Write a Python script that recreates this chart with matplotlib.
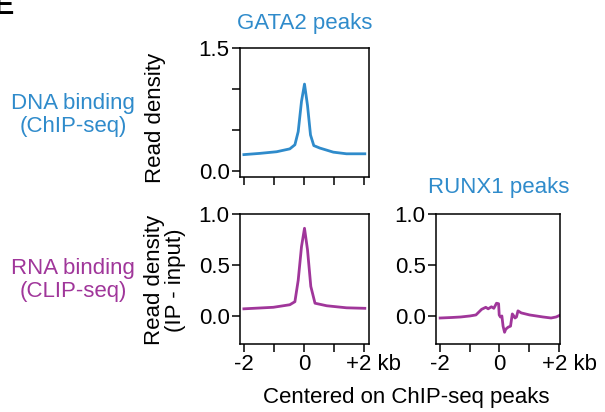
import matplotlib
matplotlib.use("Agg")
import matplotlib.pyplot as plt
import matplotlib.transforms as mtransforms

plt.rcParams['font.family'] = ['Liberation Sans', 'DejaVu Sans']

# GATA2 peaks, DNA binding (ChIP-seq)
gata2_x = [-2.0, -1.47, -0.91, -0.47, -0.3, -0.19, -0.08, 0.02, 0.12, 0.22, 0.33, 0.53, 0.98, 1.42, 2.03]
gata2_dna = [0.20, 0.215, 0.235, 0.27, 0.32, 0.48, 0.85, 1.06, 0.80, 0.44, 0.31, 0.28, 0.23, 0.21, 0.21]

# GATA2 peaks, RNA binding (CLIP-seq)
gata2_rna_x = [-2.0, -1.02, -0.47, -0.3, -0.19, -0.08, 0.02, 0.12, 0.23, 0.37, 0.76, 1.42, 2.03]
gata2_rna = [0.07, 0.085, 0.11, 0.14, 0.35, 0.68, 0.86, 0.65, 0.29, 0.125, 0.10, 0.08, 0.075]

# RUNX1 peaks, RNA binding (CLIP-seq)
runx1_x = [-1.99, -1.6, -1.3, -0.99, -0.79, -0.6, -0.46, -0.38, -0.27, -0.19, -0.1, -0.03,
           -0.01, 0.03, 0.08, 0.12, 0.17, 0.21, 0.29, 0.37, 0.43, 0.48, 0.52, 0.57, 0.62,
           0.73, 1.01, 1.46, 1.73, 1.9, 2.01]
runx1_rna = [-0.02, -0.015, -0.01, 0.0, 0.01, 0.065, 0.085, 0.07, 0.09, 0.075, 0.125, 0.12,
             0.01, -0.01, 0.0, -0.10, -0.16, -0.13, -0.11, -0.10, 0.02, 0.0, -0.02, -0.01, 0.05,
             0.03, 0.01, -0.01, -0.02, -0.01, 0.005]

x_ticks = [-2, -1, 0, 1, 2]
x_ticklabels = ['-2', '', '0', '', '+2 kb']

blue = '#2f8bcb'
purple = '#a0369a'
fs = 16

W, H = 605, 412
fig = plt.figure(figsize=(W / 100, H / 100), dpi=100)


def px_axes(left, top, right, bottom):
    return fig.add_axes([left / W, 1 - bottom / H, (right - left) / W, (bottom - top) / H])


def style(ax):
    for s in ax.spines.values():
        s.set_linewidth(1.1)
    ax.tick_params(direction='out', length=6, width=1.1, labelsize=fs, pad=1.5)
    ax.set_xticks(x_ticks)


ax_top = px_axes(240, 48, 369, 177)
ax_bl = px_axes(240, 214, 369, 344)
ax_br = px_axes(436, 214, 560, 344)

ax_top.plot(gata2_x, gata2_dna, color=blue, lw=2.0)
ax_top.set_xlim(-2.13, 2.17)
ax_top.set_ylim(-0.073, 1.5)
ax_top.set_yticks([0, 0.5, 1.0, 1.5])
ax_top.set_yticklabels(['0.0', '', '', '1.5'])
style(ax_top)
ax_top.set_xticklabels([])

ax_bl.plot(gata2_rna_x, gata2_rna, color=purple, lw=2.0)
ax_bl.set_xlim(-2.13, 2.17)

ax_br.plot(runx1_x, runx1_rna, color=purple, lw=2.0)
ax_br.set_xlim(-2.13, 2.03)

for ax in (ax_bl, ax_br):
    ax.set_ylim(-0.275, 1.0)
    ax.set_yticks([0, 0.5, 1.0])
    ax.set_yticklabels(['0.0', '0.5', '1.0'])
    style(ax)
    ax.set_xticklabels(x_ticklabels)
    lab = ax.get_xticklabels()[-1]
    lab.set_transform(lab.get_transform() + mtransforms.ScaledTranslation(0.10, 0, fig.dpi_scale_trans))


def ftext(x, y, s, **kw):
    fig.text(x / W, 1 - y / H, s, ha='center', va='center', **kw)


ftext(305, 23, 'GATA2 peaks', color=blue, fontsize=fs)
ftext(499, 188, 'RUNX1 peaks', color=blue, fontsize=fs)
ftext(73, 115, 'DNA binding\n(ChIP-seq)', color=blue, fontsize=fs, linespacing=1.1)
ftext(73, 280, 'RNA binding\n(CLIP-seq)', color=purple, fontsize=fs, linespacing=1.1)
ftext(156, 118, 'Read density', rotation=90, fontsize=fs)
ftext(165, 280, 'Read density\n(IP - input)', rotation=90, fontsize=fs, linespacing=1.0)
ftext(406, 397, 'Centered on ChIP-seq peaks', fontsize=fs)

# partial panel letter cut off at the top-left corner
fig.text(-6 / W, 1 - 14 / H, 'E', fontsize=22, fontweight='bold', ha='left', va='baseline')

fig.savefig('out.png', dpi=100)
